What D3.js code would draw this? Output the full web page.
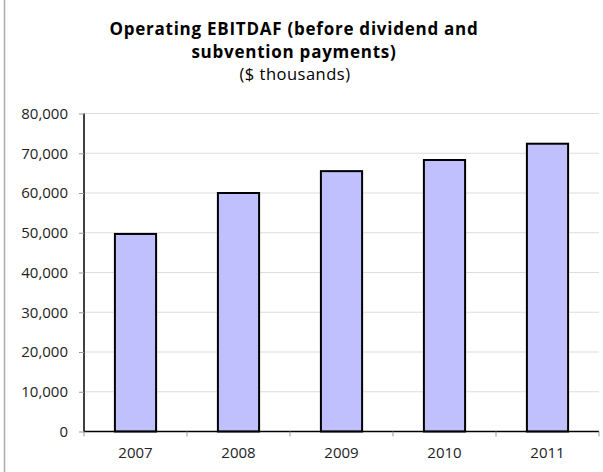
<!DOCTYPE html>
<html>
<head>
<meta charset="utf-8">
<script src="https://cdn.jsdelivr.net/npm/d3@7"></script>
<style>
  html, body { margin: 0; padding: 0; background: #fff; }
  svg { display: block; }
</style>
</head>
<body>
<svg id="chart" width="603" height="472"></svg>
<script>
const categories = ["2007", "2008", "2009", "2010", "2011"];
const values = [49700, 60000, 65500, 68300, 72400];
const yTicks = [0, 10000, 20000, 30000, 40000, 50000, 60000, 70000, 80000];
const titleLines = ["Operating EBITDAF (before dividend and", "subvention payments)"];
const subtitle = "($ thousands)";

const font = "'Open Sans', Lato, sans-serif";
const svg = d3.select("#chart");
const W = 603, H = 472;
const m = { left: 84, right: 4, top: 113.5, bottom: 40.5 };

svg.append("line").attr("x1", 4.5).attr("x2", 4.5).attr("y1", 0).attr("y2", H)
  .attr("stroke", "#aaa").attr("stroke-width", 1.5);

const x = d3.scaleBand().domain(categories).range([m.left, W - m.right]).paddingInner(0.6).paddingOuter(0.3);
const y = d3.scaleLinear().domain([0, 80000]).range([H - m.bottom, m.top]);

// gridlines
svg.append("g").selectAll("line").data(yTicks.filter(d => d > 0)).join("line")
  .attr("x1", m.left).attr("x2", W - m.right)
  .attr("y1", d => y(d)).attr("y2", d => y(d))
  .attr("stroke", "#ddd").attr("stroke-width", 1);

// bars
svg.append("g").selectAll("rect").data(values).join("rect")
  .attr("x", (d, i) => x(categories[i]))
  .attr("width", x.bandwidth())
  .attr("y", d => y(d))
  .attr("height", d => y(0) - y(d))
  .attr("fill", "#c0c0ff")
  .attr("stroke", "#000").attr("stroke-width", 2);

// y axis
const yAxis = d3.axisLeft(y).tickValues(yTicks).tickFormat(d3.format(",")).tickSize(5).tickPadding(11);
const gy = svg.append("g").attr("transform", `translate(${m.left},0)`).call(yAxis);
gy.select(".domain").attr("stroke", "#000").attr("stroke-width", 1.5).attr("d", `M0,${y(0)}V${m.top}`);
gy.selectAll(".tick line").attr("stroke", "#999");
gy.selectAll("text").attr("font-family", font).attr("font-size", 15).attr("fill", "#222");

// x axis
const bounds = d3.range(categories.length + 1).map(i => m.left + i * (W - m.left - m.right) / categories.length);
const gx = svg.append("g");
gx.append("line").attr("x1", m.left).attr("x2", W - m.right).attr("y1", y(0)).attr("y2", y(0))
  .attr("stroke", "#000").attr("stroke-width", 1.5);
gx.selectAll("line.tk").data(bounds).join("line").attr("class", "tk")
  .attr("x1", d => d).attr("x2", d => d).attr("y1", y(0)).attr("y2", y(0) + 5)
  .attr("stroke", "#999");
gx.selectAll("text").data(categories).join("text")
  .attr("x", d => x(d) + x.bandwidth() / 2).attr("y", y(0) + 26)
  .attr("text-anchor", "middle")
  .attr("font-family", font).attr("font-size", 15).attr("fill", "#222")
  .text(d => d);

// title
const t = svg.append("g");
t.selectAll("text.tl").data(titleLines).join("text").attr("class", "tl")
  .attr("x", 294).attr("y", (d, i) => 35 + i * 23)
  .attr("text-anchor", "middle").attr("font-family", font)
  .attr("font-size", 17).attr("font-weight", "bold").attr("letter-spacing", 0.75)
  .attr("fill", "#000")
  .text(d => d);
t.append("text").attr("x", 295).attr("y", 80).attr("text-anchor", "middle")
  .attr("font-family", font).attr("font-size", 16.5).attr("letter-spacing", 0.5)
  .attr("fill", "#000").text(subtitle);
</script>
</body>
</html>
